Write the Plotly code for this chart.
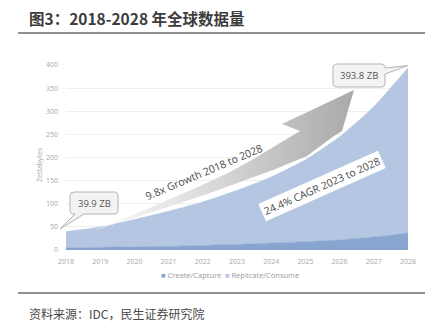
import plotly.graph_objects as go

# ---- data ----
years = [2018, 2019, 2020, 2021, 2022, 2023, 2024, 2025, 2026, 2027, 2028]
create_capture = [5, 6, 7, 8, 10, 12, 15, 18, 22, 28, 37]
replicate_consume = [34.9, 44, 59, 76, 94, 117, 143, 177, 223, 282, 356.8]
y_ticks = [0, 50, 100, 150, 200, 250, 300, 350, 400]
title_text = "图3：2018-2028 年全球数据量"
source_text = "资料来源：IDC，民生证券研究院"
label_start = "39.9 ZB"
label_end = "393.8 ZB"
growth_text = "9.8x Growth 2018 to 2028"
cagr_text = "24.4% CAGR 2023 to 2028"
series_names = ["Create/Capture", "Replicate/Consume"]

W, H = 438, 330
L, R, T, B = 66, 30, 65, 80
PW, PH = W - L - R, H - T - B

def pp(px, py):
    return (px - L) / PW, (H - B - py) / PH

def pd_(px, py):
    return 2018 + (px - L) / PW * 10, (H - B - py) / PH * 400

dark = "#88a5d0"
light = "#b4c6e1"
tick_col = "#a8a8a8"

fig = go.Figure()
fig.add_trace(go.Scatter(x=years, y=create_capture, stackgroup="one", mode="lines",
                         line=dict(width=0.5, color=dark, shape="spline", smoothing=0.6),
                         fillcolor=dark, name=series_names[0], showlegend=False, hoverinfo="skip"))
fig.add_trace(go.Scatter(x=years, y=replicate_consume, stackgroup="one", mode="lines",
                         line=dict(width=0.5, color=light, shape="spline", smoothing=0.6),
                         fillcolor=light, name=series_names[1], showlegend=False, hoverinfo="skip"))

# ---- curved growth arrow (decoration) ----
arrow_px = [(75, 238), (110, 224), (140, 212), (170, 199), (200, 186), (230, 172), (255, 158),
            (280, 143), (300, 131), (282, 124), (354, 90), (342, 131), (334, 136), (307, 156),
            (273, 170), (240, 182), (210, 193), (180, 203), (150, 213), (120, 222), (95, 230), (75, 238)]
ax_, ay_ = zip(*[pd_(*p) for p in arrow_px])
fig.add_trace(go.Scatter(x=list(ax_), y=list(ay_), mode="lines", fill="toself",
                         line=dict(width=0), hoverinfo="skip", showlegend=False,
                         fillgradient=dict(type="horizontal",
                                           colorscale=[[0, "rgba(255,255,255,1)"], [0.35, "#e6e6e6"],
                                                       [1, "#a9a9a9"]])))

shapes = []
# horizontal rules
x0p, _ = pp(18, 0); x1p, _ = pp(425, 0)
for py in (33, 293):
    _, yp = pp(0, py)
    shapes.append(dict(type="line", xref="paper", yref="paper", x0=x0p, x1=x1p, y0=yp, y1=yp,
                       line=dict(color="#6b6b6b", width=1.5)))

def callout_path(pts):
    segs = []
    for (cmd, *coords) in pts:
        conv = []
        for j in range(0, len(coords), 2):
            x, y = pp(coords[j], coords[j + 1])
            conv.append(f"{x:.5f},{y:.5f}")
        segs.append(cmd + " " + " ".join(conv))
    return " ".join(segs) + " Z"

r = 4
# 39.9 ZB box with pointer to bottom-left
bx0, by0, bx1, by1 = 70, 192, 118, 214
p1 = [("M", bx0 + r, by0), ("L", bx1 - r, by0), ("Q", bx1, by0, bx1, by0 + r),
      ("L", bx1, by1 - r), ("Q", bx1, by1, bx1 - r, by1), ("L", 84, by1), ("L", 60, 229),
      ("L", 75, by1), ("L", bx0 + r, by1), ("Q", bx0, by1, bx0, by1 - r),
      ("L", bx0, by0 + r), ("Q", bx0, by0, bx0 + r, by0)]
# 393.8 ZB box with pointer to the right
cx0, cy0, cx1, cy1 = 333, 64, 385, 87
p2 = [("M", cx0 + r, cy0), ("L", cx1 - r, cy0), ("Q", cx1, cy0, cx1, cy0 + r),
      ("L", cx1, 68), ("L", 408, 65.5), ("L", cx1, 74),
      ("L", cx1, cy1 - r), ("Q", cx1, cy1, cx1 - r, cy1), ("L", cx0 + r, cy1),
      ("Q", cx0, cy1, cx0, cy1 - r), ("L", cx0, cy0 + r), ("Q", cx0, cy0, cx0 + r, cy0)]
for p in (p1, p2):
    shapes.append(dict(type="path", xref="paper", yref="paper", path=callout_path(p),
                       fillcolor="#f3f3f3", line=dict(color="#b3b3b3", width=1)))

ann = []
def add_text(px, py, text, size, color, xanchor="center", angle=0, bold=False, family="Open Sans", **kw):
    x, y = pp(px, py)
    ann.append(dict(x=x, y=y, xref="paper", yref="paper", text=(f"<b>{text}</b>" if bold else text),
                    showarrow=False, xanchor=xanchor, yanchor="middle", textangle=angle,
                    font=dict(size=size, color=color, family=family), **kw))

add_text(27, 18, title_text, 15.5, "#3c3c3c", xanchor="left", bold=True, family="Noto Sans CJK SC")
add_text(27, 313, source_text, 12, "#4a4a4a", xanchor="left", family="Noto Sans CJK SC")
add_text(94, 203, label_start, 9.5, "#555555")
add_text(359, 76, label_end, 9.5, "#555555")
add_text(204, 172, growth_text, 10.5, "#4a4a4a", angle=-23)
add_text(322, 186, cagr_text, 10.5, "#4a4a4a", angle=-24, bgcolor="white", borderpad=2)
add_text(39, 165, "Zettabytes", 7, tick_col, angle=-90)
add_text(159, 275, f'<span style="color:{dark}">■</span> {series_names[0]}', 7.5, "#9a9a9a", xanchor="left")
add_text(223, 275, f'<span style="color:{light}">■</span> {series_names[1]}', 7.5, "#9a9a9a", xanchor="left")

fig.update_layout(
    width=W, height=H, margin=dict(l=L, r=R, t=T, b=B, autoexpand=False),
    paper_bgcolor="white", plot_bgcolor="white", showlegend=False,
    font=dict(family="Open Sans", color=tick_col, size=7),
    shapes=shapes, annotations=ann,
    xaxis=dict(range=[2018, 2028], tickvals=years, ticktext=[str(y) for y in years],
               showgrid=False, zeroline=False, showline=False, ticks="",
               ticklabelstandoff=6, tickfont=dict(size=7, color=tick_col)),
    yaxis=dict(range=[0, 400], tickvals=y_ticks, showgrid=True, gridcolor="#efefef", gridwidth=1,
               zeroline=False, showline=False, ticks="", ticklabelstandoff=7,
               tickfont=dict(size=7, color=tick_col)),
)

fig.write_html("out.html")
